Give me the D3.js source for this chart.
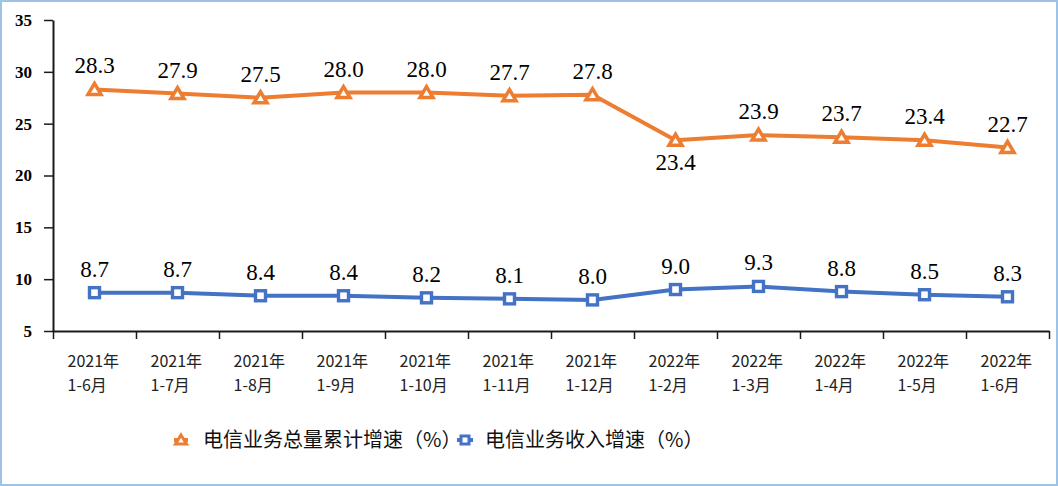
<!DOCTYPE html>
<html>
<head>
<meta charset="utf-8">
<script src="https://cdn.jsdelivr.net/npm/d3@7.9.0/dist/d3.min.js"></script>
<style>
  html, body { margin: 0; padding: 0; background: #fff; }
  svg { display: block; }
</style>
</head>
<body>
<svg id="chart" width="1058" height="486"></svg>
<script>
// Data
const years = ["2021年", "2021年", "2021年", "2021年", "2021年", "2021年", "2021年",
               "2022年", "2022年", "2022年", "2022年", "2022年"];
const periods = ["1-6月", "1-7月", "1-8月", "1-9月", "1-10月", "1-11月", "1-12月",
                 "1-2月", "1-3月", "1-4月", "1-5月", "1-6月"];
const volumeGrowth = [28.3, 27.9, 27.5, 28.0, 28.0, 27.7, 27.8, 23.4, 23.9, 23.7, 23.4, 22.7];
const revenueGrowth = [8.7, 8.7, 8.4, 8.4, 8.2, 8.1, 8.0, 9.0, 9.3, 8.8, 8.5, 8.3];
const yTicks = [5, 10, 15, 20, 25, 30, 35];
const seriesNames = ["电信业务总量累计增速（%）", "电信业务收入增速（%）"];

const orange = "#ED7D31";
const blue = "#4472C4";

const svg = d3.select("#chart");

// outer frame
svg.append("rect")
  .attr("x", 1).attr("y", 1).attr("width", 1056).attr("height", 484)
  .attr("fill", "#fff").attr("stroke", "#9DC3E6").attr("stroke-width", 2);

const plotLeft = 53, plotRight = 1049, plotTop = 20, plotBottom = 331;

const x = d3.scaleBand().domain(d3.range(periods.length)).range([plotLeft, plotRight]).padding(0);
const xEdge = d3.scaleLinear().domain([0, periods.length]).range([plotLeft, plotRight]);
const y = d3.scaleLinear().domain([5, 35]).range([plotBottom, plotTop]);

// y axis
const yAxis = svg.append("g")
  .attr("transform", `translate(${plotLeft},0)`)
  .call(d3.axisLeft(y).tickValues(yTicks).tickSize(9).tickSizeOuter(0).tickPadding(12));
yAxis.select(".domain").attr("stroke", "#1a1a1a").attr("stroke-width", 2);
yAxis.selectAll(".tick line").attr("stroke", "#1a1a1a").attr("stroke-width", 1.5);
yAxis.selectAll(".tick text")
  .attr("fill", "#000")
  .style("font-family", "'Liberation Serif', 'DejaVu Serif', serif")
  .style("font-size", "17px")
  .style("font-weight", "bold");

// x axis (ticks between categories)
const xAxis = svg.append("g")
  .attr("transform", `translate(0,${plotBottom})`)
  .call(d3.axisBottom(xEdge).tickValues(d3.range(periods.length + 1)).tickSize(8)
    .tickSizeOuter(0).tickFormat(""));
xAxis.select(".domain").attr("stroke", "#1a1a1a").attr("stroke-width", 2);
xAxis.selectAll(".tick line").attr("stroke", "#1a1a1a").attr("stroke-width", 1.5);

// category labels, two lines
const catFont = "'Noto Sans CJK SC', 'Noto Sans', sans-serif";
const cat = svg.append("g").selectAll("text")
  .data(periods)
  .join("text")
  .attr("font-family", catFont)
  .attr("font-size", 16)
  .attr("font-weight", 400)
  .attr("fill", "#222");
cat.append("tspan")
  .attr("x", (d, i) => x(i) + x.bandwidth() / 2 - 27)
  .attr("y", 367)
  .text((d, i) => years[i]);
cat.append("tspan")
  .attr("x", (d, i) => x(i) + x.bandwidth() / 2 - 27)
  .attr("y", 391)
  .text(d => d);

const cx = i => x(i) + x.bandwidth() / 2;
const line = d3.line().x((d, i) => cx(i)).y(d => y(d));

function triangle(g) {
  g.append("path")
    .attr("d", "M0,-6 L6.5,5 L-6.5,5 Z")
    .attr("fill", "#fff").attr("stroke", orange)
    .attr("stroke-width", 3.5).attr("stroke-linejoin", "miter");
}
function square(g) {
  g.append("rect")
    .attr("x", -5).attr("y", -5).attr("width", 10).attr("height", 10)
    .attr("fill", "#fff").attr("stroke", blue).attr("stroke-width", 3.4);
}

function drawSeries(values, color, marker, labelOffset) {
  svg.append("path")
    .datum(values)
    .attr("d", line)
    .attr("fill", "none")
    .attr("stroke", color)
    .attr("stroke-width", 4)
    .attr("stroke-linejoin", "round");

  svg.append("g").selectAll("g")
    .data(values)
    .join("g")
    .attr("transform", (d, i) => `translate(${cx(i)},${y(d)})`)
    .each(function () { marker(d3.select(this)); });

  svg.append("g").selectAll("text")
    .data(values)
    .join("text")
    .attr("x", (d, i) => cx(i))
    .attr("y", (d, i) => y(d) + labelOffset(i))
    .attr("text-anchor", "middle")
    .attr("font-family", "'Liberation Serif', 'DejaVu Serif', serif")
    .attr("font-size", 23)
    .attr("fill", "#000")
    .text(d => d.toFixed(1));
}

drawSeries(volumeGrowth, orange, triangle, i => (i === 7 ? 30 : -16));
drawSeries(revenueGrowth, blue, square, () => -16);

// legend
const legend = svg.append("g").attr("font-family", catFont).attr("font-size", 20).attr("fill", "#111");
const lg1 = legend.append("g").attr("transform", "translate(181,440)");
lg1.append("line").attr("x1", -7).attr("x2", 7).attr("stroke", orange).attr("stroke-width", 4);
lg1.append("path").attr("d", "M0,-5 L5.5,4 L-5.5,4 Z")
  .attr("fill", "#fff").attr("stroke", orange).attr("stroke-width", 3);
legend.append("text").attr("x", 203).attr("y", 447).text(seriesNames[0]);

const lg2 = legend.append("g").attr("transform", "translate(465,440)");
lg2.append("line").attr("x1", -8).attr("x2", 8).attr("stroke", blue).attr("stroke-width", 4);
lg2.append("rect").attr("x", -4).attr("y", -4).attr("width", 8).attr("height", 8)
  .attr("fill", "#fff").attr("stroke", blue).attr("stroke-width", 3);
legend.append("text").attr("x", 485).attr("y", 447).text(seriesNames[1]);
</script>
</body>
</html>
